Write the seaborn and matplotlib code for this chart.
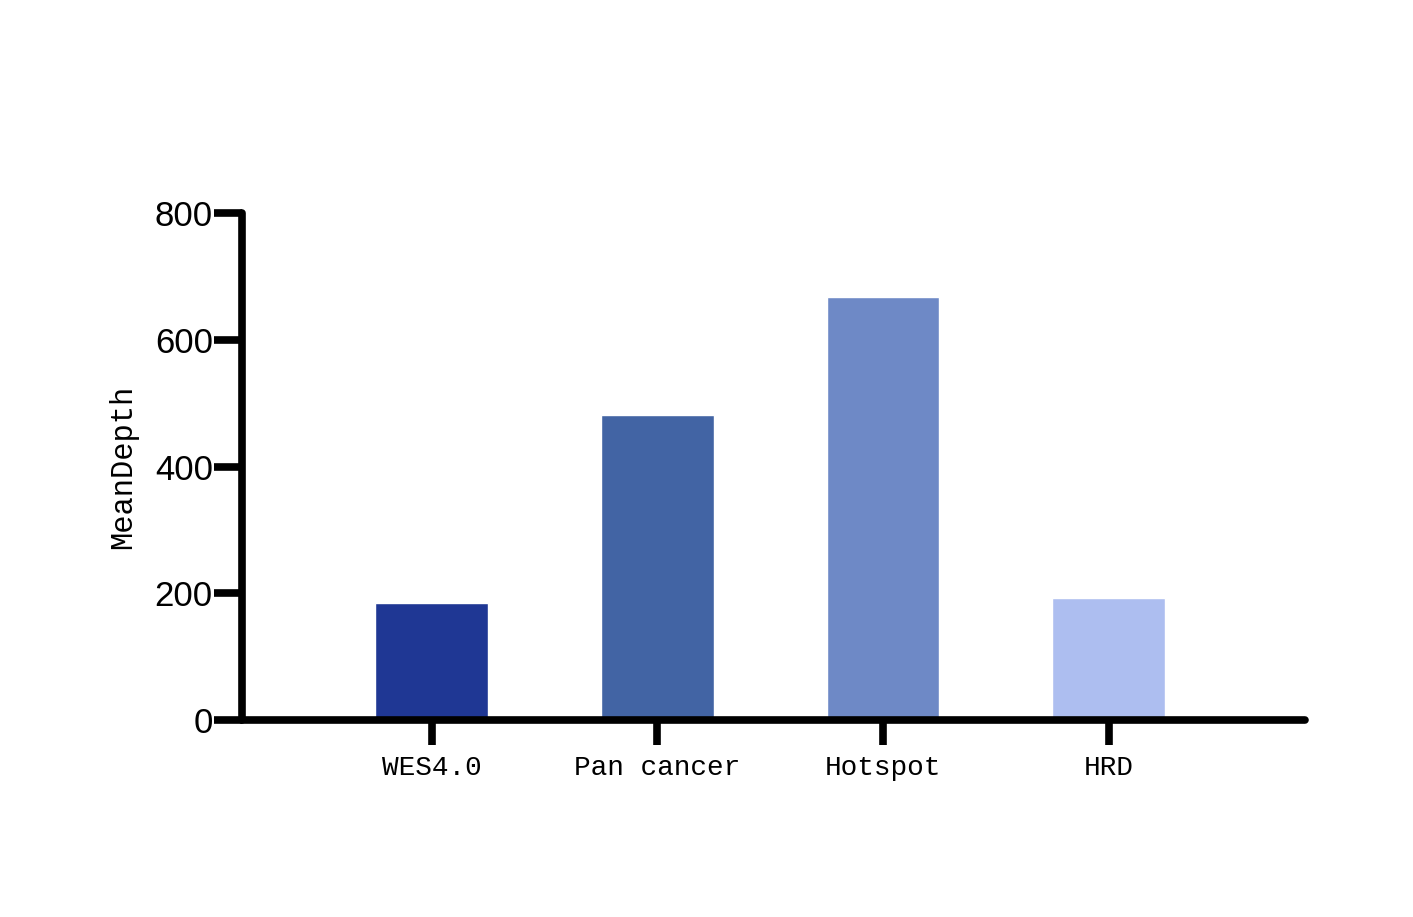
import matplotlib
matplotlib.use("Agg")
import matplotlib.pyplot as plt
import seaborn as sns
import pandas as pd

categories = ["WES4.0", "Pan cancer", "Hotspot", "HRD"]
mean_depth = [185, 481, 667, 192]
colors = ["#1F3794", "#4264A4", "#6E89C6", "#ADBEF0"]
yticks = [0, 200, 400, 600, 800]

sns.set_style("white")
plt.rcParams["text.color"] = "black"
df = pd.DataFrame({"Sample": categories, "MeanDepth": mean_depth})

fig = plt.figure(figsize=(14.13, 9.17), dpi=100)
ax = fig.add_axes([242/1413, 1-720/917, (1305-242)/1413, (720-213)/917])
sns.barplot(data=df, x="Sample", y="MeanDepth", hue="Sample", palette=colors,
            width=0.5, legend=False, ax=ax, saturation=1)

ax.set_xlim(-0.84, 3.87)
ax.set_ylim(0, 800)
ax.set_yticks(yticks)
ax.set_yticklabels([str(v) for v in yticks], fontsize=25, family="Liberation Sans", color="black")
ax.set_xticks(range(len(categories)))
ax.set_xticklabels(categories, fontsize=20, family="Liberation Mono", color="black")
ax.set_xlabel("")
ax.set_ylabel("MeanDepth", fontsize=22, family="Liberation Mono", labelpad=12, color="black")

for s in ["top", "right"]:
    ax.spines[s].set_visible(False)
for s in ["left", "bottom"]:
    ax.spines[s].set_linewidth(5.5)
    ax.spines[s].set_capstyle("round")
    ax.spines[s].set_color("black")
ax.tick_params(axis="y", length=20, width=5.5, direction="out", pad=1, left=True, color="black")
ax.tick_params(axis="x", length=18, width=5.5, direction="out", pad=7, bottom=True, color="black")
ax.grid(False)

fig.savefig("out.png", dpi=100)
